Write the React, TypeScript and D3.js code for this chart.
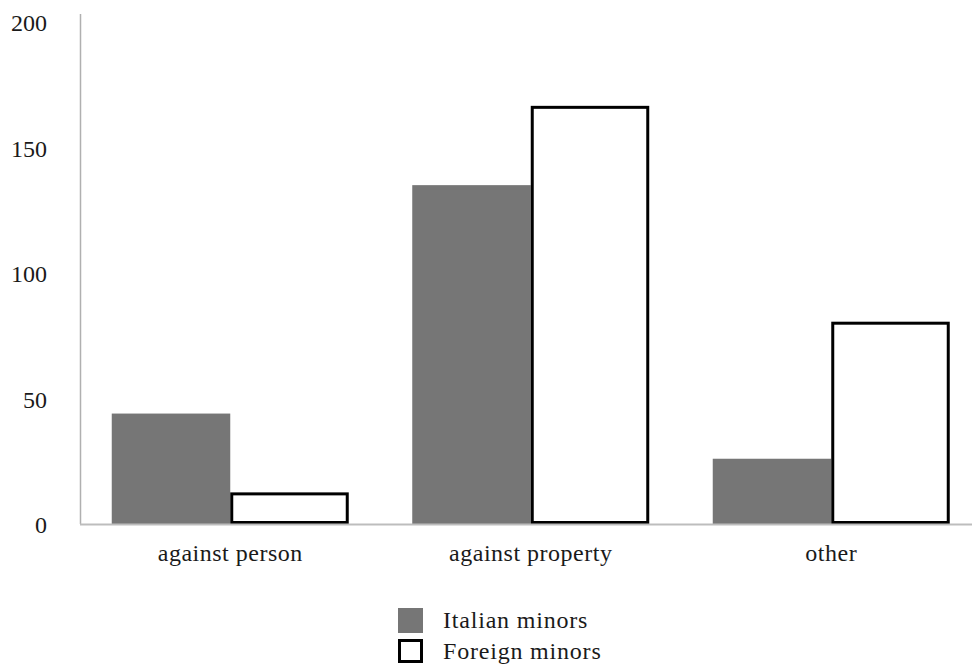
import React from "react";
import * as d3 from "d3";

const categories = ["against person", "against property", "other"];
const seriesNames = ["Italian minors", "Foreign minors"];
const italianMinors = [44, 135, 26];
const foreignMinors = [12, 166, 80];
const yTicks = [0, 50, 100, 150, 200];

const W = 972;
const H = 666;
const FONT = "'Liberation Serif', 'Times New Roman', serif";
const TEXT = "#1a1a1a";
const GREY_FILL = "#767676";

export default function App() {
  const y = d3.scaleLinear().domain([0, 200]).range([524, 22]);
  const x0 = d3.scaleBand<string>().domain(categories).range([80, 981.5]).padding(0);
  const x1 = d3
    .scaleBand<string>()
    .domain(seriesNames)
    .range([31.75, x0.bandwidth() - 31.75])
    .padding(0);

  const rows = categories.map((c, i) => ({
    cat: c,
    values: [italianMinors[i], foreignMinors[i]],
  }));

  return (
    <svg
      width={W}
      height={H}
      style={{ position: "absolute", left: 0, top: 0, background: "#fff" }}
      fontFamily={FONT}
    >
      {/* y axis line */}
      <line x1={80.5} x2={80.5} y1={14} y2={y(0)} stroke="#b0b0b0" strokeWidth={1.5} />

      {/* y tick labels */}
      {yTicks.map((t) => (
        <text
          key={t}
          x={47}
          y={y(t) + 1}
          textAnchor="end"
          dominantBaseline="central"
          fontSize={24}
          fill={TEXT}
        >
          {t}
        </text>
      ))}

      {/* bars */}
      {rows.map((r) => {
        const gx = x0(r.cat)!;
        return (
          <g key={r.cat} transform={`translate(${gx},0)`}>
            <rect
              x={x1(seriesNames[0])!}
              y={y(r.values[0])}
              width={x1.bandwidth()}
              height={y(0) - y(r.values[0])}
              fill={GREY_FILL}
            />
            <rect
              x={x1(seriesNames[1])! + 1.5}
              y={y(r.values[1])}
              width={x1.bandwidth() - 3}
              height={y(0) - y(r.values[1]) - 1.5}
              fill="#fff"
              stroke="#000"
              strokeWidth={3}
            />
          </g>
        );
      })}

      {/* baseline */}
      <line x1={80} x2={W} y1={y(0) + 0.5} y2={y(0) + 0.5} stroke="#bdbdbd" strokeWidth={2} />

      {/* category labels */}
      {categories.map((c) => (
        <text
          key={c}
          x={x0(c)! + x0.bandwidth() / 2}
          y={561}
          textAnchor="middle"
          fontSize={24}
          letterSpacing={0.5}
          fill={TEXT}
        >
          {c}
        </text>
      ))}

      {/* legend */}
      <rect x={398} y={608} width={25} height={25} fill={GREY_FILL} />
      <text x={443} y={628} fontSize={24} letterSpacing={0.8} fill={TEXT}>
        {seriesNames[0]}
      </text>
      <rect x={399.5} y={640.5} width={22} height={21} fill="#fff" stroke="#000" strokeWidth={3} />
      <text x={443} y={659} fontSize={24} letterSpacing={0.8} fill={TEXT}>
        {seriesNames[1]}
      </text>
    </svg>
  );
}
